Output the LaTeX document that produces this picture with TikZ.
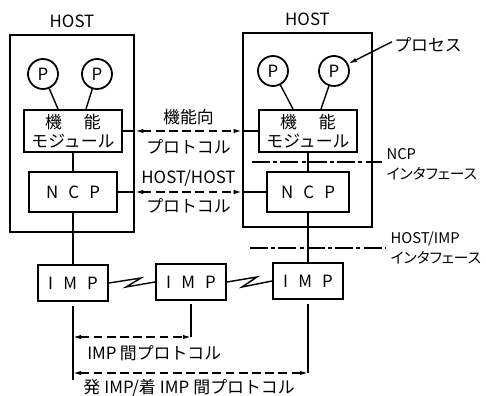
\documentclass[tikz,border=0pt]{standalone}
\usepackage{fontspec}
\setmainfont{Noto Sans CJK JP}
\usepackage{tikz}
\usetikzlibrary{positioning,arrows.meta,calc}
\tikzset{
  % --- boxes ---
  hostbox/.style={draw, line width=0.65mm, inner sep=0pt},
  funcbox/.style={draw, line width=0.5mm, align=center, inner sep=0pt,
                  minimum width=24.5mm, minimum height=10.5mm},
  ncpbox/.style={draw, line width=0.5mm, inner sep=0pt,
                 minimum width=22mm, minimum height=10mm},
  impbox/.style={ncpbox, minimum width=17.5mm, minimum height=8.75mm},
  procnode/.style={circle, draw, line width=0.45mm, minimum size=7.5mm,
                   inner sep=0pt},
  % --- connectors ---
  wire/.style={line width=0.35mm},
  proto/.style={wire, dash pattern=on 2.2mm off 1.1mm,
                {Latex[length=2mm,width=1.1mm]}-{Latex[length=2mm,width=1.1mm]}},
  ifline/.style={line width=0.3mm,
                 dash pattern=on 4.5mm off 0.8mm on 1mm off 0.8mm},
  pointer/.style={wire, -{Latex[length=2.2mm,width=1.1mm]}},
  % --- labels ---
  lbl/.style={inner sep=0.5mm},
  iflbl/.style={lbl, align=left,
                font=\fontsize{10.5pt}{14pt}\selectfont\addfontfeatures{RawFeature=+palt}},
}

\begin{document}
\begin{tikzpicture}[x=0.25mm, y=-0.25mm, font=\fontsize{12pt}{13.5pt}\selectfont]
  \useasboundingbox (0,0) rectangle (486,396);
  % hosts
  \node[hostbox, minimum width=31mm, minimum height=49.25mm] (lhost) at (72,133.5) {};
  \node[hostbox, minimum width=32.25mm, minimum height=48.5mm] (rhost) at (307.5,130) {};
  \node[lbl, above=1mm of lhost] (lhostlbl) {HOST};
  \node[lbl, above=1mm of rhost] (rhostlbl) {HOST};
  % processes
  \node[procnode] (lp1) at (43,74) {P};
  \node[procnode] (lp2) at (97,74) {P};
  \node[procnode] (rp1) at (273,71) {P};
  \node[procnode] (rp2) at (334,71) {P};
  % function modules, NCPs, IMPs
  \node[funcbox] (lfunc) at (73,131) {機\hspace{1.3em}能\\モジュール};
  \node[funcbox] (rfunc) at (308,131) {機\hspace{1.3em}能\\モジュール};
  \node[ncpbox] (lncp) at (73,192) {N\hspace{0.6em}C\hspace{0.6em}P};
  \node[ncpbox, minimum width=20.5mm] (rncp) at (308,192) {N\hspace{0.6em}C\hspace{0.6em}P};
  \node[impbox] (limp) at (73,283) {I\hspace{0.6em}M\hspace{0.6em}P};
  \node[impbox] (mimp) at (191,282) {I\hspace{0.6em}M\hspace{0.6em}P};
  \node[impbox] (rimp) at (308,281) {I\hspace{0.6em}M\hspace{0.6em}P};
  % inside the hosts
  \draw[wire] (lp1) -- ($(lfunc.north)+(-15,0)$);
  \draw[wire] (lp2) -- ($(lfunc.north)+(13,0)$);
  \draw[wire] (rp1) -- ($(rfunc.north)+(-15,0)$);
  \draw[wire] (rp2) -- ($(rfunc.north)+(13,0)$);
  \draw[wire] (lfunc) -- (lncp);
  \draw[wire] (lncp) -- (limp);
  \draw[wire] (rfunc) -- (rncp);
  \draw[wire] (rncp) -- (rimp);
  % links between IMPs
  \draw[wire] (limp.east) -- ++(32,-5) -- ++(-15,9) -- (mimp.west);
  \draw[wire] (mimp.east) -- ++(30,-5) -- ++(-15,10) -- (rimp.west);
  % host to host protocols
  \draw[wire] (lfunc.east) -- (lfunc.east -| lhost.east);
  \draw[wire] (rfunc.west) -- (rfunc.west -| rhost.west);
  \draw[proto] (lfunc.east -| lhost.east) --
    node[lbl, above=0.85mm] (fplbl) {機能向}
    node[lbl, below=1.35mm] (fplbl2) {プロトコル} (rfunc.west -| rhost.west);
  \draw[wire] (lncp.east) -- (lncp.east -| lhost.east);
  \draw[wire] (rncp.west) -- (rncp.west -| rhost.west);
  \draw[proto] (lncp.east -| lhost.east) --
    node[lbl, above=0.8mm] (hhlbl) {HOST/HOST}
    node[lbl, below=0.85mm] (hhlbl2) {プロトコル} (rncp.west -| rhost.west);
  % interfaces
  \coordinate (nif1) at (252,162);
  \coordinate (nif2) at (382,162);
  \draw[ifline] (nif1) -- (nif2)
    node[iflbl, right=0.5mm, yshift=-0.6mm] (niflbl) {NCP\\インタフェース};
  \coordinate (hif1) at (250,248);
  \coordinate (hif2) at (386,248);
  \draw[ifline] (hif1) -- (hif2)
    node[iflbl, right=0.5mm] (hiflbl) {HOST/IMP\\インタフェース};
  % IMP protocols
  \coordinate (ipy) at (0,337);
  \coordinate (eey) at (0,373);
  \coordinate (boty) at (0,380);
  \draw[wire] ([yshift=-1.2mm]limp.south) -- (limp.south |- boty);
  \draw[wire] ([yshift=-0.8mm]mimp.south) -- (mimp.south |- ipy);
  \draw[wire] ([yshift=-1.2mm]rimp.south) -- (rimp.south |- eey);
  \draw[proto] (limp.south |- ipy) -- (mimp.south |- ipy);
  \node[lbl, anchor=west] (iplbl) at ($(limp.south |- ipy)+(12,16)$)
    {IMP\hspace{0.2em}間プロトコル};
  \draw[proto] (limp.south |- eey) -- (rimp.south |- eey);
  \node[lbl, anchor=west] (eelbl) at ($(limp.south |- eey)+(8,15)$)
    {発\hspace{0.25em}IMP/着\hspace{0.25em}IMP\hspace{0.25em}間プロトコル};
  % process label
  \node[lbl, anchor=west] (proclbl) at (392,45) {プロセス};
  \draw[pointer] ([yshift=0.8mm]proclbl.west) -- (rp2);
\end{tikzpicture}
\end{document}
